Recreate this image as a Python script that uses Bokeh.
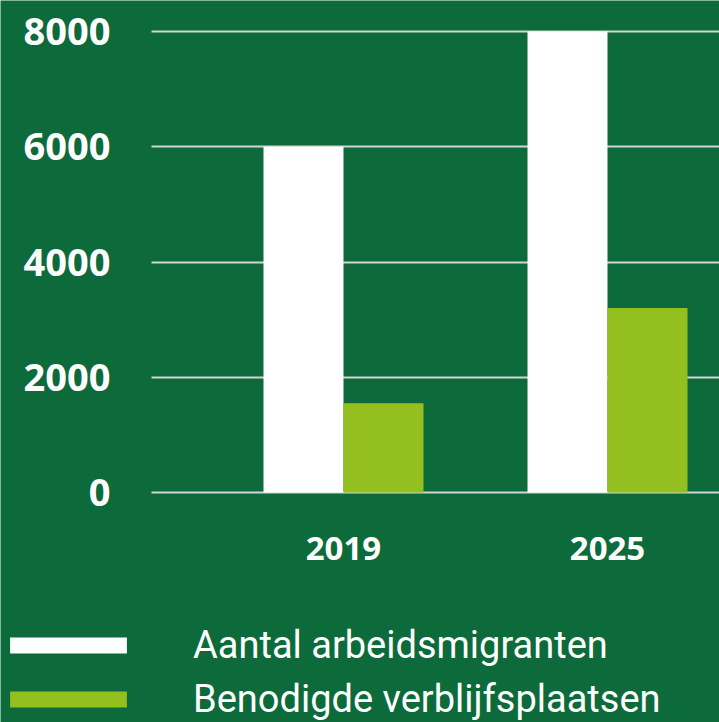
import numpy as np
from bokeh.plotting import figure
from bokeh.models import Range1d, FixedTicker, Legend, LegendItem, LinearAxis, Grid
from bokeh.embed import file_html
from bokeh.resources import INLINE

# ---- data ----
years = ["2019", "2025"]
arbeidsmigranten = [6000, 8000]
verblijfsplaatsen = [1550, 3200]
series_names = ["Aantal arbeidsmigranten", "Benodigde verblijfsplaatsen"]
y_ticks = [0, 2000, 4000, 6000, 8000]

BG = "#0d6a3b"
WHITE = "#ffffff"
LIME = "#93c01f"
GRID = "#d4d4d4"

idx = np.arange(len(years))
bar_w = 0.303
axis_x = -0.7273          # where the value axis sits (left end of the grid)
x_end = 1.4242

p = figure(width=719, height=722, output_backend="svg", toolbar_location=None,
           x_range=Range1d(-1.2992, x_end), y_range=Range1d(-3991, 8538),
           x_axis_type=None, y_axis_type=None,
           min_border_left=0, min_border_right=0, min_border_top=0,
           min_border_bottom=0)
p.background_fill_color = BG
p.border_fill_color = BG
p.outline_line_color = None
p.grid.visible = False

r1 = p.vbar(x=idx - bar_w / 2, top=arbeidsmigranten, width=bar_w, bottom=0,
            fill_color=WHITE, line_color=None)
r2 = p.vbar(x=idx + bar_w / 2, top=verblijfsplaatsen, width=bar_w, bottom=0,
            fill_color=LIME, line_color=None)

yaxis = LinearAxis(ticker=FixedTicker(ticks=y_ticks), fixed_location=axis_x)
yaxis.axis_line_color = None
yaxis.major_tick_line_color = None
yaxis.minor_tick_line_color = None
yaxis.major_label_text_color = WHITE
yaxis.major_label_text_font = "Open Sans"
yaxis.major_label_text_font_style = "bold"
yaxis.major_label_text_font_size = "38px"
yaxis.major_label_standoff = 35
p.add_layout(yaxis, "left")

xaxis = LinearAxis(ticker=FixedTicker(ticks=list(idx)), fixed_location=0)
xaxis.major_label_overrides = {int(i): y for i, y in zip(idx, years)}
xaxis.axis_line_color = None
xaxis.major_tick_line_color = None
xaxis.minor_tick_line_color = None
xaxis.major_label_text_color = WHITE
xaxis.major_label_text_font = "Open Sans"
xaxis.major_label_text_font_style = "bold"
xaxis.major_label_text_font_size = "33px"
xaxis.major_label_standoff = 38
p.add_layout(xaxis, "below")

g = Grid(dimension=1, ticker=FixedTicker(ticks=y_ticks),
         grid_line_color=GRID, grid_line_width=2, cross_bounds=(axis_x, x_end))
g.level = "underlay"
p.add_layout(g, "center")

legend = Legend(items=[LegendItem(label=series_names[0], renderers=[r1]),
                       LegendItem(label=series_names[1], renderers=[r2])],
                location=(-5, 1), orientation="vertical",
                glyph_width=146, glyph_height=20, label_standoff=52,
                spacing=10, padding=0, margin=0,
                background_fill_alpha=0, border_line_color=None,
                label_text_color=WHITE, label_text_font="Roboto",
                label_text_font_size="38px")
p.add_layout(legend, "center")

open("out.html", "w").write(file_html(p, INLINE))
